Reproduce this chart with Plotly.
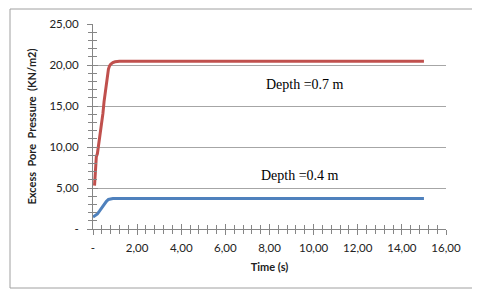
import plotly.graph_objects as go

time_red = [0.07, 0.1, 0.15, 0.2, 0.25, 0.3, 0.35, 0.4, 0.45, 0.5, 0.55, 0.6, 0.65, 0.7, 0.75,
            0.8, 0.9, 1.0, 1.2, 1.5, 2, 3, 4, 5, 6, 7, 8, 9, 10, 11, 12, 13, 14, 15]
pressure_red = [5.3, 7.6, 8.8, 9.2, 10.1, 11.3, 11.9, 12.9, 14.1, 15.5, 16.6, 17.8, 18.8, 19.5, 19.9,
                20.1, 20.3, 20.4, 20.45, 20.45, 20.45, 20.45, 20.45, 20.45, 20.45, 20.45, 20.45,
                20.45, 20.45, 20.45, 20.45, 20.45, 20.45, 20.45]

time_blue = [0, 0.1, 0.2, 0.3, 0.4, 0.5, 0.6, 0.7, 0.8, 0.9, 1.0, 1.5, 2, 3, 4, 5, 6, 7, 8, 9,
             10, 11, 12, 13, 14, 15]
pressure_blue = [1.45, 1.6, 1.85, 2.2, 2.6, 3.0, 3.35, 3.6, 3.7, 3.72, 3.72, 3.72, 3.72, 3.72, 3.72,
                 3.72, 3.72, 3.72, 3.72, 3.72, 3.72, 3.72, 3.72, 3.72, 3.72, 3.72]

x_tickvals = [0, 2, 4, 6, 8, 10, 12, 14, 16]
x_ticktext = ["-", "2,00", "4,00", "6,00", "8,00", "10,00", "12,00", "14,00", "16,00"]
y_tickvals = [0, 5, 10, 15, 20, 25]
y_ticktext = ["-", "5,00", "10,00", "15,00", "20,00", "25,00"]

labels = ["Depth =0.7 m", "Depth =0.4 m"]
label_x = [9.6, 9.4]
label_y = [17.6, 6.5]

# page body has an 8px margin, so the figure is sized to the remaining area
W, H = 472, 287
L, R, T, B = 85, 34, 16, 66

fig = go.Figure()
fig.add_trace(go.Scatter(x=time_red, y=pressure_red, mode="lines",
                         line=dict(color="#C0504D", width=3), showlegend=False))
fig.add_trace(go.Scatter(x=time_blue, y=pressure_blue, mode="lines",
                         line=dict(color="#4F81BD", width=3), showlegend=False))

fam = "Lato, Liberation Sans, sans-serif"
tickfont = dict(family=fam, size=11.5, color="#222222")
fig.update_layout(
    width=W, height=H,
    margin=dict(l=L, r=R, t=T, b=B, autoexpand=False),
    paper_bgcolor="white", plot_bgcolor="white",
    xaxis=dict(range=[0, 16], tickvals=x_tickvals, ticktext=x_ticktext, tickfont=tickfont,
               showgrid=False, zeroline=False, showline=True, linecolor="#868686", linewidth=1,
               ticks="outside", ticklen=5, tickcolor="#868686", ticklabelstandoff=3,
               minor=dict(dtick=0.4, tick0=0, ticks="outside", ticklen=4, tickcolor="#868686", showgrid=False),
               title=dict(text="<b>Time (s)</b>", font=dict(family=fam, size=11, color="#222222"), standoff=10)),
    yaxis=dict(range=[0, 25], tickvals=y_tickvals, ticktext=y_ticktext, tickfont=tickfont,
               showgrid=True, gridcolor="#A6A6A6", gridwidth=1, zeroline=False,
               showline=True, linecolor="#868686", linewidth=1,
               ticks="outside", ticklen=5, tickcolor="#868686", ticklabelstandoff=6,
               minor=dict(dtick=1, tick0=0, ticks="outside", ticklen=4, tickcolor="#868686", showgrid=False),
               title=dict(text="<b>Excess  Pore  Pressure  (KN/m2)</b>", font=dict(family=fam, size=11, color="#222222"), standoff=10)),
    xaxis2=dict(range=[0, 16], overlaying="x", showticklabels=False, showgrid=False, zeroline=False,
                ticks="inside", ticklen=5, tickcolor="#868686", tickvals=x_tickvals,
                minor=dict(dtick=0.4, tick0=0, ticks="inside", ticklen=4, tickcolor="#868686")),
    yaxis2=dict(range=[0, 25], overlaying="y", showticklabels=False, showgrid=False, zeroline=False,
                ticks="inside", ticklen=5, tickcolor="#868686", tickvals=y_tickvals,
                minor=dict(dtick=1, tick0=0, ticks="inside", ticklen=4, tickcolor="#868686")),
)
fig.add_trace(go.Scatter(x=[0], y=[0], xaxis="x2", yaxis="y2", mode="markers",
                         marker=dict(opacity=0), showlegend=False, hoverinfo="skip"))

for t, lx, ly in zip(labels, label_x, label_y):
    fig.add_annotation(x=lx, y=ly, text=t, showarrow=False,
                       font=dict(family="Liberation Serif, Times New Roman, serif", size=14, color="black"))

pw, ph = W - L - R, H - T - B
fig.add_shape(type="rect", xref="paper", yref="paper", layer="above",
              x0=(2 - L) / pw, x1=(466 - L) / pw,
              y0=(H - B - 280) / ph, y1=(H - B - 1) / ph,
              line=dict(color="#A0A0A0", width=1), fillcolor="rgba(0,0,0,0)")

fig.write_html("out.html")
